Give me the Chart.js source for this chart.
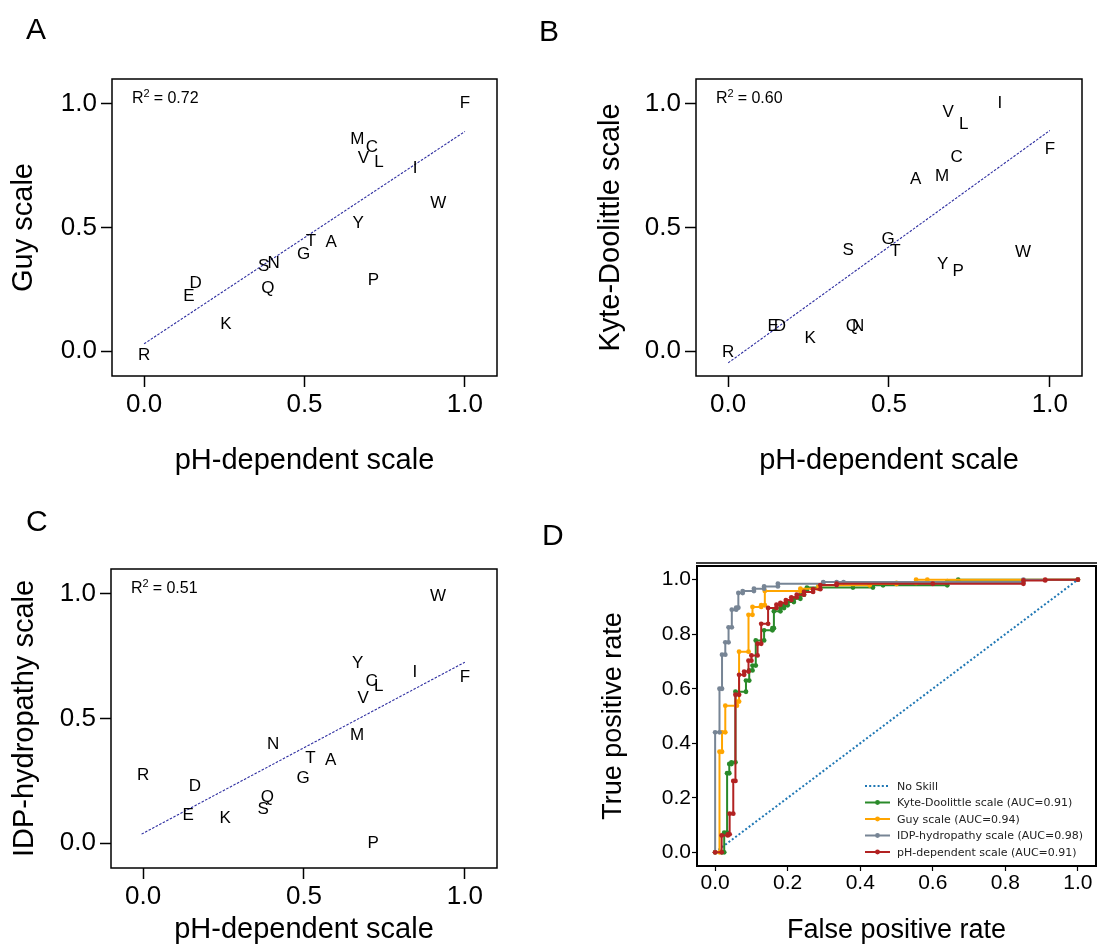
<!DOCTYPE html>
<html>
<head>
<meta charset="utf-8">
<script src="https://cdn.jsdelivr.net/npm/chart.js@4.4.1/dist/chart.umd.min.js"></script>
<style>
  html, body { margin: 0; padding: 0; background: #fff; overflow: hidden; }
  #page { position: relative; width: 1100px; height: 947px; }
  canvas { position: absolute; }
  .tag { position: absolute; font: 30px "Liberation Sans", Arial, sans-serif; line-height: 30px; color: #000; }
</style>
</head>
<body>
<div id="page">
  <canvas id="chartA" width="550" height="480" style="left:0;top:0"></canvas>
  <canvas id="chartB" width="550" height="480" style="left:550px;top:0"></canvas>
  <canvas id="chartC" width="550" height="467" style="left:0;top:480px"></canvas>
  <canvas id="chartD" width="550" height="467" style="left:550px;top:480px"></canvas>
  <div class="tag" style="left:26px;top:14px">A</div>
  <div class="tag" style="left:539px;top:16px">B</div>
  <div class="tag" style="left:26px;top:506px">C</div>
  <div class="tag" style="left:542px;top:520px">D</div>
</div>
<script>
// --- data ---
const RESIDUES  = ['R', 'D', 'E', 'K', 'S', 'N', 'Q', 'G', 'T', 'A', 'M', 'Y', 'V', 'C', 'P', 'L', 'I', 'W', 'F'];
const PH_SCALE  = [0.0, 0.161, 0.140, 0.255, 0.373, 0.404, 0.386, 0.497, 0.520, 0.583, 0.665, 0.667, 0.684, 0.710, 0.715, 0.732, 0.845, 0.917, 1.0];
const GUY_SCALE = [-0.016, 0.276, 0.222, 0.108, 0.344, 0.357, 0.256, 0.391, 0.445, 0.441, 0.856, 0.515, 0.778, 0.826, 0.287, 0.764, 0.741, 0.596, 1.0];
const KD_SCALE  = [-0.005, 0.101, 0.101, 0.054, 0.407, 0.101, 0.101, 0.454, 0.404, 0.694, 0.708, 0.353, 0.964, 0.782, 0.323, 0.916, 1.0, 0.398, 0.815];
const IDP_SCALE = [0.272, 0.228, 0.110, 0.100, 0.137, 0.398, 0.185, 0.261, 0.341, 0.332, 0.432, 0.720, 0.582, 0.649, 0.0, 0.629, 0.685, 0.991, 0.667];

// regression lines (end points)
const GUY_FIT_X = [0, 1];  const GUY_FIT_Y = [0.03, 0.888];
const KD_FIT_X  = [0, 1];  const KD_FIT_Y  = [-0.047, 0.892];
const IDP_FIT_X = [-0.005, 1]; const IDP_FIT_Y = [0.036, 0.726];

const R2_GUY = '0.72', R2_KD = '0.60', R2_IDP = '0.51';
const SCATTER_TICKS = [0, 0.5, 1.0];

// ROC curves
const ROC_TICKS = [0, 0.2, 0.4, 0.6, 0.8, 1.0];
const NO_SKILL_FPR = [0, 1];
const NO_SKILL_TPR = [0, 1];

const KD_FPR = [0, 0.019, 0.025, 0.025, 0.033, 0.033, 0.039, 0.039, 0.045, 0.045, 0.056, 0.056, 0.085, 0.085, 0.094, 0.094, 0.103, 0.103, 0.112, 0.112, 0.135, 0.135, 0.158, 0.158, 0.162, 0.162, 0.18, 0.18, 0.19, 0.19, 0.2, 0.2, 0.217, 0.217, 0.235, 0.235, 0.245, 0.245, 0.253, 0.253, 0.38, 0.435, 0.435, 0.463, 0.64, 0.64, 0.67, 0.67, 1.0];
const KD_TPR = [0, 0, 0, 0.072, 0.072, 0.29, 0.29, 0.324, 0.324, 0.33, 0.33, 0.589, 0.589, 0.63, 0.63, 0.667, 0.667, 0.685, 0.685, 0.777, 0.777, 0.814, 0.814, 0.822, 0.822, 0.884, 0.884, 0.896, 0.896, 0.906, 0.906, 0.918, 0.918, 0.93, 0.93, 0.945, 0.945, 0.96, 0.96, 0.971, 0.971, 0.971, 0.979, 0.979, 0.979, 0.994, 0.994, 1.0, 1.0];

const GUY_FPR = [0, 0.012, 0.012, 0.019, 0.019, 0.028, 0.028, 0.060, 0.060, 0.066, 0.066, 0.092, 0.092, 0.103, 0.103, 0.127, 0.127, 0.137, 0.137, 0.235, 0.235, 0.285, 0.285, 0.426, 0.426, 0.5, 0.5, 0.554, 0.554, 0.585, 1.0];
const GUY_TPR = [0, 0, 0.369, 0.369, 0.44, 0.44, 0.538, 0.538, 0.553, 0.553, 0.736, 0.736, 0.871, 0.871, 0.9, 0.9, 0.906, 0.906, 0.958, 0.958, 0.967, 0.967, 0.979, 0.979, 0.984, 0.984, 0.988, 0.988, 1.0, 1.0, 1.0];

const IDP_FPR = [0, 0, 0.012, 0.012, 0.019, 0.019, 0.028, 0.028, 0.037, 0.037, 0.046, 0.046, 0.058, 0.058, 0.064, 0.064, 0.076, 0.076, 0.107, 0.107, 0.135, 0.135, 0.173, 0.173, 0.298, 0.298, 0.335, 0.354, 0.85, 0.85, 1.0];
const IDP_TPR = [0, 0.44, 0.44, 0.60, 0.60, 0.725, 0.725, 0.77, 0.77, 0.825, 0.825, 0.89, 0.89, 0.897, 0.897, 0.951, 0.951, 0.958, 0.958, 0.967, 0.967, 0.975, 0.975, 0.985, 0.985, 0.991, 0.991, 0.991, 0.991, 1.0, 1.0];

const PH_FPR = [0, 0.018, 0.018, 0.035, 0.035, 0.040, 0.040, 0.050, 0.050, 0.056, 0.056, 0.066, 0.066, 0.080, 0.080, 0.092, 0.092, 0.100, 0.100, 0.117, 0.117, 0.127, 0.127, 0.146, 0.146, 0.169, 0.169, 0.180, 0.180, 0.195, 0.195, 0.21, 0.21, 0.225, 0.225, 0.245, 0.245, 0.27, 0.27, 0.29, 0.29, 0.335, 0.335, 0.6, 0.85, 0.85, 0.91, 0.91, 1.0];
const PH_TPR = [0, 0, 0.062, 0.062, 0.066, 0.066, 0.142, 0.142, 0.262, 0.262, 0.578, 0.578, 0.651, 0.651, 0.663, 0.663, 0.703, 0.703, 0.722, 0.722, 0.765, 0.765, 0.838, 0.838, 0.896, 0.896, 0.908, 0.908, 0.915, 0.915, 0.925, 0.925, 0.935, 0.935, 0.945, 0.945, 0.955, 0.955, 0.965, 0.965, 0.98, 0.98, 0.985, 0.985, 0.985, 0.997, 0.997, 1.0, 1.0];

const FONT = '"Liberation Sans", Arial, sans-serif';
const FIT_COLOR = 'rgba(45, 45, 160, 1)';

const toPoints = (xs, ys) => xs.map((x, i) => ({ x, y: ys[i] }));

// box around the plotting area
const frame = {
  id: 'frame',
  afterDatasetsDraw(chart, args, opts) {
    const { ctx, chartArea: a } = chart;
    ctx.save();
    ctx.strokeStyle = '#000';
    ctx.lineWidth = opts.width || 1.5;
    ctx.strokeRect(a.left, a.top, a.right - a.left, a.bottom - a.top);
    if (opts.doubleTop) {
      // extra rule just above the top edge, as in the source figure
      ctx.lineWidth = 1.5;
      ctx.beginPath();
      ctx.moveTo(a.left - 1, a.top - 3);
      ctx.lineTo(a.right + 1, a.top - 3);
      ctx.stroke();
    }
    ctx.restore();
  }
};

// residue letters + R^2 note
const residueLabels = {
  id: 'residueLabels',
  afterDatasetsDraw(chart, args, opts) {
    if (!opts.labels) return;
    const { ctx, chartArea: a } = chart;
    const meta = chart.getDatasetMeta(0);
    ctx.save();
    ctx.fillStyle = '#000';
    ctx.font = '17px ' + FONT;
    ctx.textAlign = 'center';
    ctx.textBaseline = 'middle';
    meta.data.forEach((pt, i) => ctx.fillText(opts.labels[i], pt.x, pt.y));

    let x = a.left + 20, y = a.top + 20;
    ctx.font = '16px ' + FONT;
    ctx.textAlign = 'left';
    ctx.fillText('R', x, y);
    x += ctx.measureText('R').width;
    ctx.font = '11px ' + FONT;
    ctx.fillText('2', x, y - 5);
    x += ctx.measureText('2').width + 4;
    ctx.font = '16px ' + FONT;
    ctx.fillText('= ' + opts.r2, x, y);
    ctx.restore();
  }
};

// legend for the ROC panel
const rocLegend = {
  id: 'rocLegend',
  afterDraw(chart, args, opts) {
    const { ctx, chartArea: a } = chart;
    const x0 = a.left + opts.dx, y0 = a.bottom - opts.dy;
    ctx.save();
    ctx.font = '11px "DejaVu Sans", sans-serif';
    ctx.textBaseline = 'middle';
    chart.data.datasets.forEach((ds, i) => {
      const y = y0 + i * opts.gap;
      ctx.strokeStyle = ds.borderColor;
      ctx.lineWidth = ds.borderWidth;
      ctx.setLineDash(ds.borderDash || []);
      ctx.beginPath();
      ctx.moveTo(x0, y);
      ctx.lineTo(x0 + 25, y);
      ctx.stroke();
      ctx.setLineDash([]);
      if (ds.pointRadius) {
        ctx.fillStyle = ds.borderColor;
        ctx.beginPath();
        ctx.arc(x0 + 12.5, y, 2.4, 0, Math.PI * 2);
        ctx.fill();
      }
      ctx.fillStyle = '#222';
      ctx.fillText(ds.label, x0 + 32, y + 1);
    });
    ctx.restore();
  }
};

function axis(o) {
  return {
    type: 'linear',
    min: o.min,
    max: o.max,
    afterBuildTicks: s => { s.ticks = o.ticks.map(v => ({ value: v })); },
    afterFit: s => {
      if (o.width) s.width = o.width;
      if (o.height) s.height = o.height;
      s.paddingLeft = s.paddingRight = s.paddingTop = s.paddingBottom = 0;
    },
    grid: { display: true, drawOnChartArea: false, drawTicks: true, tickLength: o.tickLength, tickWidth: o.tickWidth, tickColor: '#000' },
    border: { display: false },
    ticks: {
      color: '#000',
      font: { family: FONT, size: o.tickSize },
      padding: o.tickPad,
      maxRotation: 0,
      autoSkip: false,
      callback: v => Number(v).toFixed(1)
    },
    title: { display: true, text: o.title, color: '#000', font: { family: FONT, size: o.titleSize }, padding: o.titlePad }
  };
}

function scatterPanel(id, yVals, fitX, fitY, r2, yTitle, L) {
  return new Chart(document.getElementById(id), {
    type: 'scatter',
    data: {
      datasets: [
        { data: toPoints(PH_SCALE, yVals), pointRadius: 0, pointHoverRadius: 0 },
        { data: toPoints(fitX, fitY), showLine: true, borderColor: FIT_COLOR, borderWidth: 1.1, borderDash: [2.5, 1.5], pointRadius: 0 }
      ]
    },
    options: {
      responsive: false,
      animation: false,
      devicePixelRatio: 1,
      layout: { padding: L.padding },
      plugins: {
        legend: { display: false },
        tooltip: { enabled: false },
        residueLabels: { labels: RESIDUES, r2 },
        frame: { width: 1.5 }
      },
      scales: {
        x: axis({ min: -0.1, max: 1.1, ticks: SCATTER_TICKS, height: L.xHeight, tickLength: 11, tickWidth: 1.5,
                  tickSize: 26, tickPad: 2, title: 'pH-dependent scale', titleSize: 29, titlePad: { top: 0, bottom: L.xTitlePad } }),
        y: axis({ min: -0.1, max: 1.1, ticks: SCATTER_TICKS, width: L.yWidth, tickLength: 11, tickWidth: 1.5,
                  tickSize: 26, tickPad: 4, title: yTitle, titleSize: 29, titlePad: { top: L.yTitlePad, bottom: 0 } })
      }
    },
    plugins: [frame, residueLabels]
  });
}

scatterPanel('chartA', GUY_SCALE, GUY_FIT_X, GUY_FIT_Y, R2_GUY, 'Guy scale',
  { padding: { left: 0, top: 79, right: 53, bottom: 0 }, yWidth: 112, xHeight: 104, yTitlePad: 7, xTitlePad: 2 });
scatterPanel('chartB', KD_SCALE, KD_FIT_X, KD_FIT_Y, R2_KD, 'Kyte-Doolittle scale',
  { padding: { left: 0, top: 79, right: 18, bottom: 0 }, yWidth: 146, xHeight: 104, yTitlePad: 44, xTitlePad: 2 });
scatterPanel('chartC', IDP_SCALE, IDP_FIT_X, IDP_FIT_Y, R2_IDP, 'IDP-hydropathy scale',
  { padding: { left: 0, top: 89, right: 53, bottom: 0 }, yWidth: 111, xHeight: 79, yTitlePad: 8, xTitlePad: 0 });

function rocSet(label, fpr, tpr, color, order) {
  return {
    label, data: toPoints(fpr, tpr), showLine: true, tension: 0,
    borderColor: color, backgroundColor: color, borderWidth: 2,
    pointRadius: 2.4, pointBorderWidth: 0, pointBackgroundColor: color, order
  };
}

new Chart(document.getElementById('chartD'), {
  type: 'scatter',
  data: {
    datasets: [
      { label: 'No Skill', data: toPoints(NO_SKILL_FPR, NO_SKILL_TPR), showLine: true, borderColor: '#1f77b4',
        borderWidth: 2, borderDash: [2, 2.2], pointRadius: 0, order: 5 },
      rocSet('Kyte-Doolittle scale (AUC=0.91)', KD_FPR, KD_TPR, '#2a8a2a', 4),
      rocSet('Guy scale (AUC=0.94)', GUY_FPR, GUY_TPR, '#ffa500', 3),
      rocSet('IDP-hydropathy scale (AUC=0.98)', IDP_FPR, IDP_TPR, '#778595', 2),
      rocSet('pH-dependent scale (AUC=0.91)', PH_FPR, PH_TPR, '#b22222', 1)
    ]
  },
  options: {
    responsive: false,
    animation: false,
    devicePixelRatio: 1,
    layout: { padding: { left: 0, top: 86, right: 2, bottom: 0 } },
    plugins: {
      legend: { display: false },
      tooltip: { enabled: false },
      frame: { width: 2, doubleTop: true },
      rocLegend: { dx: 168, dy: 80, gap: 16.5 }
    },
    scales: {
      x: axis({ min: -0.05, max: 1.05, ticks: ROC_TICKS, height: 81, tickLength: 5, tickWidth: 1.2,
                tickSize: 21, tickPad: 0, title: 'False positive rate', titleSize: 27, titlePad: { top: 0, bottom: 0 } }),
      y: axis({ min: -0.05, max: 1.05, ticks: ROC_TICKS, width: 147, tickLength: 5, tickWidth: 1.2,
                tickSize: 21, tickPad: 1, title: 'True positive rate', titleSize: 27, titlePad: { top: 47, bottom: 0 } })
    }
  },
  plugins: [frame, rocLegend]
});
</script>
</body>
</html>
